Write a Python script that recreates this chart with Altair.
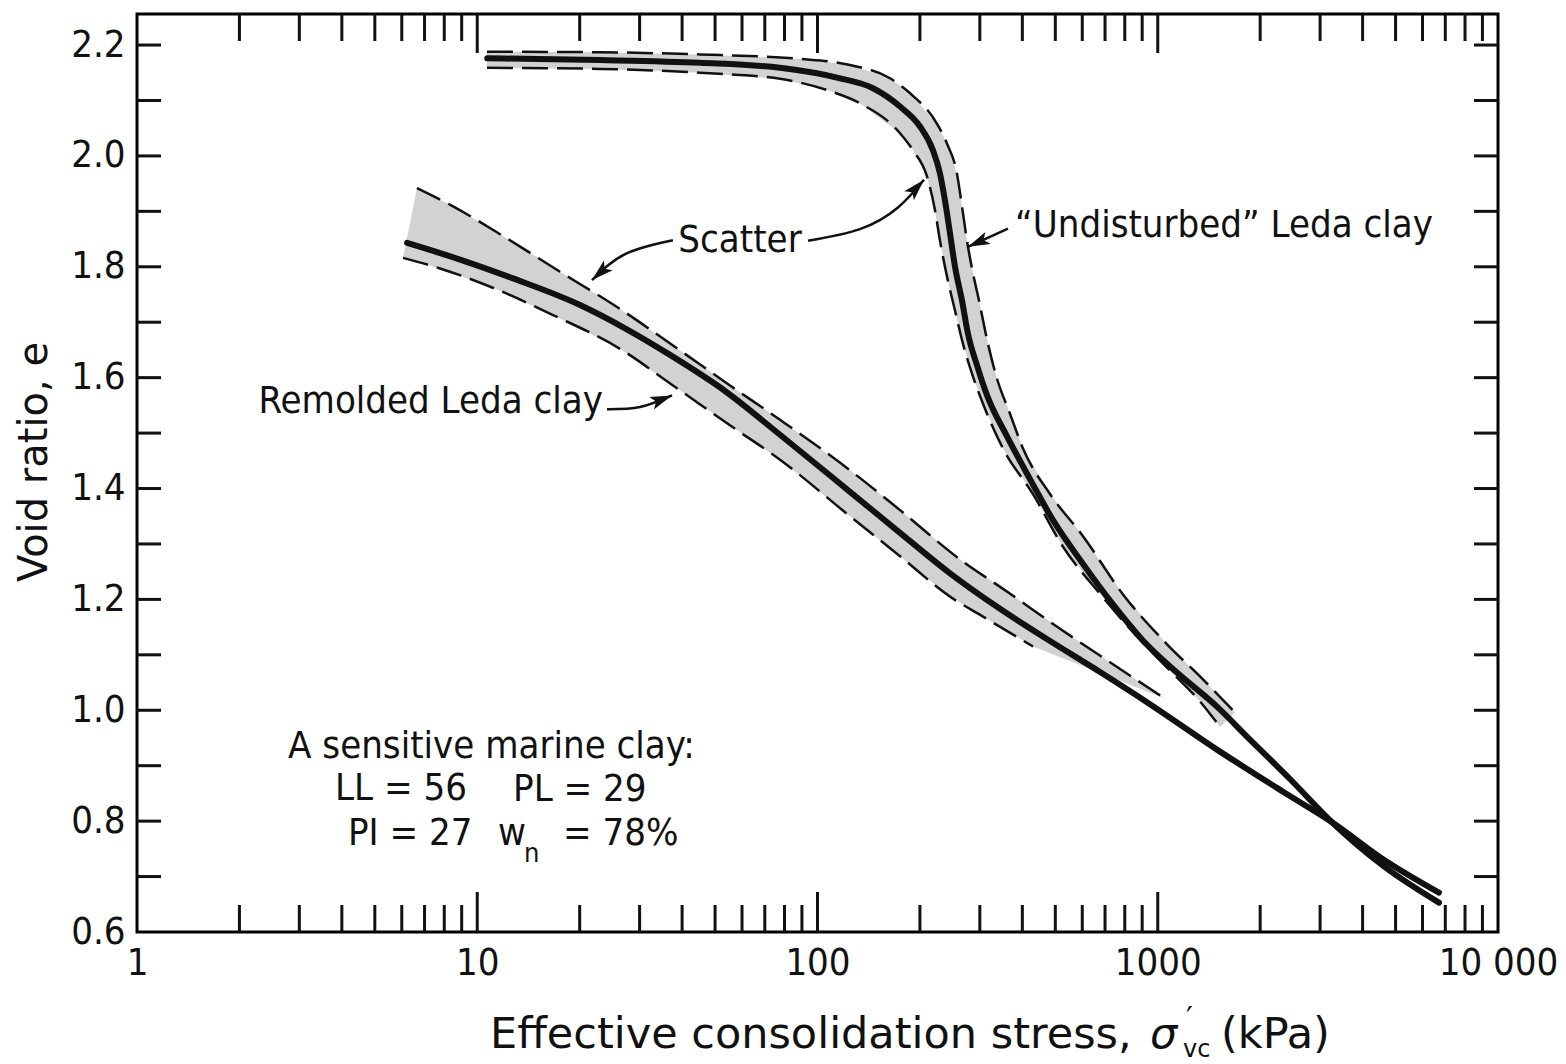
import altair as alt
import pandas as pd

# ---------------- data ----------------
# "Undisturbed" Leda clay, centre line
UND_S = [10.7, 22.9, 45.1, 77.6, 116.5, 145.6, 174.8, 200.1, 218.5, 229.1, 237.0, 245.2,
         253.6, 265.9, 276.9, 294.3, 315.0, 360.6, 421.2, 492.2, 603.0, 738.6, 904.6,
         1139, 1493, 1867, 2447, 3252, 4655, 6706]
UND_E = [2.176, 2.173, 2.168, 2.159, 2.140, 2.122, 2.089, 2.053, 2.010, 1.968, 1.919, 1.860,
         1.800, 1.739, 1.679, 1.622, 1.568, 1.494, 1.417, 1.343, 1.264, 1.191, 1.126,
         1.068, 1.0065, 0.947, 0.876, 0.798, 0.717, 0.653]
# "Undisturbed" scatter band: outer (upper/right) and inner (lower/left) limits
UO_S = [10.68, 22.95, 45.1, 88.8, 124.6, 163.3, 187.1, 224.5, 240.3, 257.0, 265.9, 275.0,
        284.5, 298.3, 317.0, 337.0, 367.9, 401.8, 482.4, 603.0, 790.5, 1065, 1331, 1687]
UO_E = [2.188, 2.187, 2.183, 2.175, 2.164, 2.140, 2.113, 2.058, 2.022, 1.968, 1.909, 1.847,
        1.797, 1.739, 1.661, 1.598, 1.535, 1.472, 1.390, 1.314, 1.209, 1.119, 1.061, 0.996]
UI_S = [10.68, 22.95, 45.1, 77.6, 108.8, 133.3, 174.8, 190.9, 209.8, 221.5, 229.1, 240.3,
        253.6, 267.7, 286.4, 306.5, 351.0, 429.9, 526.8, 676.7, 845.9, 1065, 1331, 1524]
UI_E = [2.159, 2.157, 2.150, 2.139, 2.117, 2.095, 2.041, 2.010, 1.963, 1.902, 1.847, 1.782,
        1.721, 1.661, 1.602, 1.553, 1.472, 1.390, 1.295, 1.210, 1.141, 1.077, 1.016, 0.970]

# Remolded Leda clay, centre line
REM_S = [6.22, 8.90, 12.74, 20.05, 27.19, 36.86, 53.47, 77.6, 124.6, 174.8, 245.2, 343.9,
         482.4, 676.7, 948.8, 1493, 2335, 3252, 4655, 6706]
REM_E = [1.843, 1.813, 1.779, 1.731, 1.689, 1.641, 1.576, 1.497, 1.394, 1.320, 1.247, 1.183,
         1.125, 1.069, 1.011, 0.929, 0.853, 0.798, 0.729, 0.671]
# Remolded scatter band: upper and lower limits
RU_S = [6.65, 8.49, 12.23, 17.51, 26.27, 37.61, 55.31, 77.6, 124.6, 174.8, 267.7, 351.0,
        516.2, 738.6, 1050]
RU_E = [1.942, 1.909, 1.851, 1.791, 1.724, 1.658, 1.586, 1.524, 1.433, 1.361, 1.268, 1.219,
        1.147, 1.083, 1.021]
RL_S = [6.05, 7.77, 11.43, 16.70, 26.27, 37.61, 55.31, 77.6, 124.6, 174.8, 245.2, 306.5, 429.9]
RL_E = [1.816, 1.797, 1.759, 1.713, 1.652, 1.586, 1.514, 1.452, 1.350, 1.278, 1.205, 1.169, 1.115]

# annotation arrows (stress, void ratio)
ARROW_KEYS = ["sc_left"] * 3 + ["sc_right"] * 4 + ["und"] * 2 + ["rem"] * 3
ARROW_S = [37.6, 27.2, 21.74, 93.8, 133.3, 172.4, 205.6, 362.9, 276.9, 24.06, 30.09, 37.36]
ARROW_E = [1.848, 1.823, 1.776, 1.847, 1.868, 1.907, 1.957, 1.869, 1.836, 1.543, 1.547, 1.568]
HEAD_S = [21.74, 205.6, 276.9, 37.36]
HEAD_E = [1.776, 1.957, 1.836, 1.568]
HEAD_ANGLE = [228, 43, 246, 69]

# tick / label values
X_LABELS = [1, 10, 100, 1000, 10000]
X_MAJOR = [10, 100, 1000]
X_MINOR = [m * d for d in (1, 10, 100, 1000) for m in range(2, 10)]
Y_LABELS = [0.6, 0.8, 1.0, 1.2, 1.4, 1.6, 1.8, 2.0, 2.2]
Y_TICKS = [0.7, 0.8, 0.9, 1.0, 1.1, 1.2, 1.3, 1.4, 1.5, 1.6, 1.7, 1.8, 1.9, 2.0, 2.1, 2.2]

# ---------------- chart ----------------
W, H = 1361, 918
FONT = "DejaVu Sans Condensed, DejaVu Sans"
TFONT = "DejaVu Sans"
INK = "#111111"

xs = alt.Scale(type="log", domain=[1, 10000], nice=False)
ys = alt.Scale(domain=[0.6, 2.256], zero=False, nice=False)
xaxis = alt.Axis(values=X_LABELS, ticks=False, domain=False, grid=False,
                 labelExpr="datum.value >= 10000 ? '10 000' : format(datum.value, 'd')",
                 labelFont=FONT, labelFontSize=38, labelPadding=12, labelFlush=False,
                 labelColor=INK, labelOverlap=False)
yaxis = alt.Axis(values=Y_LABELS, format=".1f", ticks=False, domain=False, grid=False,
                 labelFont=FONT, labelFontSize=38, labelPadding=12, labelColor=INK)


def X():
    return alt.X("s:Q", scale=xs, axis=xaxis, title=None)


def Y():
    return alt.Y("e:Q", scale=ys, axis=yaxis, title=None)


def frame(s, e, key):
    return pd.DataFrame({"s": s, "e": e, "k": key, "o": range(len(s))})


# scatter bands as closed polygons
und_poly = pd.DataFrame({"s": UO_S + UI_S[::-1], "e": UO_E + UI_E[::-1]})
und_poly["o"] = range(len(und_poly))
rem_poly = pd.DataFrame({"s": RU_S + RL_S[::-1], "e": RU_E + RL_E[::-1]})
rem_poly["o"] = range(len(rem_poly))

band_fill = "#d2d2d2"
bands = [
    alt.Chart(df).mark_line(fill=band_fill, strokeOpacity=0, interpolate="linear")
    .encode(x=X(), y=Y(), order="o:Q")
    for df in (und_poly, rem_poly)
]

dashed_df = pd.concat([frame(UO_S, UO_E, "uo"), frame(UI_S, UI_E, "ui"),
                       frame(RU_S, RU_E, "ru"), frame(RL_S, RL_E, "rl")])
dashed = alt.Chart(dashed_df).mark_line(
    color=INK, strokeWidth=2.5, strokeDash=[26, 9], interpolate="monotone"
).encode(x=X(), y=Y(), detail="k:N")

centre_df = pd.concat([frame(UND_S, UND_E, "und"), frame(REM_S, REM_E, "rem")])
centre = alt.Chart(centre_df).mark_line(
    color=INK, strokeWidth=6, interpolate="monotone", strokeCap="round"
).encode(x=X(), y=Y(), detail="k:N")

arrow_df = pd.DataFrame({"s": ARROW_S, "e": ARROW_E, "k": ARROW_KEYS})
arrow_df["o"] = range(len(arrow_df))
arrows = alt.Chart(arrow_df).mark_line(
    color=INK, strokeWidth=2.5, interpolate="natural"
).encode(x=X(), y=Y(), detail="k:N", order="o:Q")

head_df = pd.DataFrame({"s": HEAD_S, "e": HEAD_E, "a": HEAD_ANGLE})
heads = alt.Chart(head_df).mark_point(
    shape="M0,0 L0.6,2 L0,1.55 L-0.6,2 Z", filled=True, color=INK, opacity=1,
    size=480, strokeWidth=0
).encode(x=X(), y=Y(), angle=alt.Angle("a:Q", scale=None))


# text annotations
def label(text, s, e, align="left", size=38, font=FONT, style="normal"):
    return alt.Chart(pd.DataFrame({"s": [s], "e": [e]})).mark_text(
        text=text, align=align, baseline="middle", font=font, fontSize=size,
        color=INK, fontStyle=style
    ).encode(x=X(), y=Y())


texts = [
    label("Scatter", 59.2, 1.847, align="center"),
    label("\u201cUndisturbed\u201d Leda clay", 380.7, 1.874),
    label("Remolded Leda clay", 23.42, 1.556, align="right"),
    label("A sensitive marine clay:", 2.78, 0.933),
    label("LL = 56", 3.82, 0.858),
    label("PL = 29", 12.74, 0.857),
    label("PI = 27", 4.17, 0.777),
    label("w", 11.51, 0.776),
    label("n", 13.72, 0.740, size=27),
    label("= 78%", 17.87, 0.776),
]

# inward ticks on all four sides
one = pd.DataFrame({"z": [0]})
tick_style = dict(color=INK, strokeWidth=3)
ticks = [
    alt.Chart(pd.DataFrame({"s": X_MINOR})).mark_rule(**tick_style)
    .encode(x=X(), y=alt.value(H), y2=alt.value(H - 27)),
    alt.Chart(pd.DataFrame({"s": X_MAJOR})).mark_rule(**tick_style)
    .encode(x=X(), y=alt.value(H), y2=alt.value(H - 40)),
    alt.Chart(pd.DataFrame({"s": X_MINOR})).mark_rule(**tick_style)
    .encode(x=X(), y=alt.value(0), y2=alt.value(27)),
    alt.Chart(pd.DataFrame({"s": X_MAJOR})).mark_rule(**tick_style)
    .encode(x=X(), y=alt.value(0), y2=alt.value(39)),
    alt.Chart(pd.DataFrame({"e": Y_TICKS})).mark_rule(**tick_style)
    .encode(y=Y(), x=alt.value(0), x2=alt.value(24)),
    alt.Chart(pd.DataFrame({"e": Y_TICKS})).mark_rule(**tick_style)
    .encode(y=Y(), x=alt.value(W), x2=alt.value(W - 24)),
]


# axis titles (built from pieces to get the sub/superscripts)
def ptext(text, x, y, size, angle=0, style="normal", align="left"):
    return alt.Chart(one).mark_text(
        text=text, align=align, baseline="middle", font=TFONT, fontSize=size,
        color=INK, angle=angle, fontStyle=style
    ).encode(x=alt.value(x), y=alt.value(y))


titles = [
    ptext("Void ratio, e", -102, 448, 40, angle=270, align="center"),
    ptext("Effective consolidation stress,", 353, 1021, 43),
    ptext("\u03c3", 1013, 1021, 43, style="italic"),
    ptext("\u2032", 1049, 1005, 30),
    ptext("vc", 1046, 1036, 24),
    ptext("(kPa)", 1084, 1021, 43),
]

chart = alt.layer(
    *bands, dashed, centre, arrows, heads, *texts, *ticks, *titles
).properties(
    width=W, height=H,
    autosize=alt.AutoSizeParams(type="none"),
    padding={"left": 129, "top": 6, "right": 60, "bottom": 150},
    background="white",
).configure_view(stroke="black", strokeWidth=3)

chart.save("out.html", embed_options={"renderer": "svg", "actions": False})
